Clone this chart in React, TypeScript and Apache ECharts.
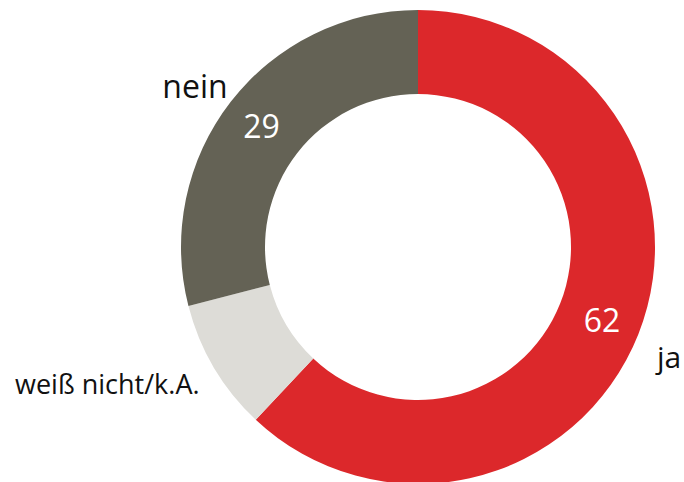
import React, { useEffect, useRef } from "react";
import * as echarts from "echarts";

const categories = ["ja", "weiß nicht/k.A.", "nein"];
const values = [62, 9, 29];
const colors = ["#DC282B", "#DDDCD7", "#646255"];
const showInner = [true, false, true];

export default function App() {
  const ref = useRef<HTMLDivElement>(null);
  useEffect(() => {
    if (!ref.current) return;
    const chart = echarts.init(ref.current, null, { renderer: "svg" });
    const data = categories.map((name, i) => ({
      name,
      value: values[i],
      itemStyle: { color: colors[i] },
      label: { show: showInner[i] },
    }));
    const outerPos = [
      { x: 657, y: 356, align: "left", fontSize: 30 },
      { x: 15, y: 383, align: "left", fontSize: 27 },
      { x: 195, y: 85, align: "center", fontSize: 32 },
    ];
    chart.setOption({
      animation: false,
      graphic: categories.map((name, i) => ({
        type: "text",
        x: outerPos[i].x,
        y: outerPos[i].y,
        silent: true,
        style: {
          text: name,
          fill: "#111111",
          font: `${outerPos[i].fontSize}px "Open Sans"`,
          textAlign: outerPos[i].align,
          textVerticalAlign: "middle",
        },
      })),
      series: [
        {
          type: "pie",
          center: [418, 247],
          radius: [153, 237],
          startAngle: 90,
          clockwise: true,
          silent: true,
          itemStyle: { borderWidth: 0 },
          label: {
            position: "inside",
            formatter: "{c}",
            color: "#ffffff",
            fontSize: 32,
            fontFamily: "Open Sans",
            fontWeight: "normal",
          },
          labelLine: { show: false },
          data,
        },
      ],
    });
    return () => chart.dispose();
  }, []);
  return (
    <div
      ref={ref}
      style={{ position: "fixed", left: 0, top: 0, width: 684, height: 482, background: "#fff" }}
    />
  );
}
